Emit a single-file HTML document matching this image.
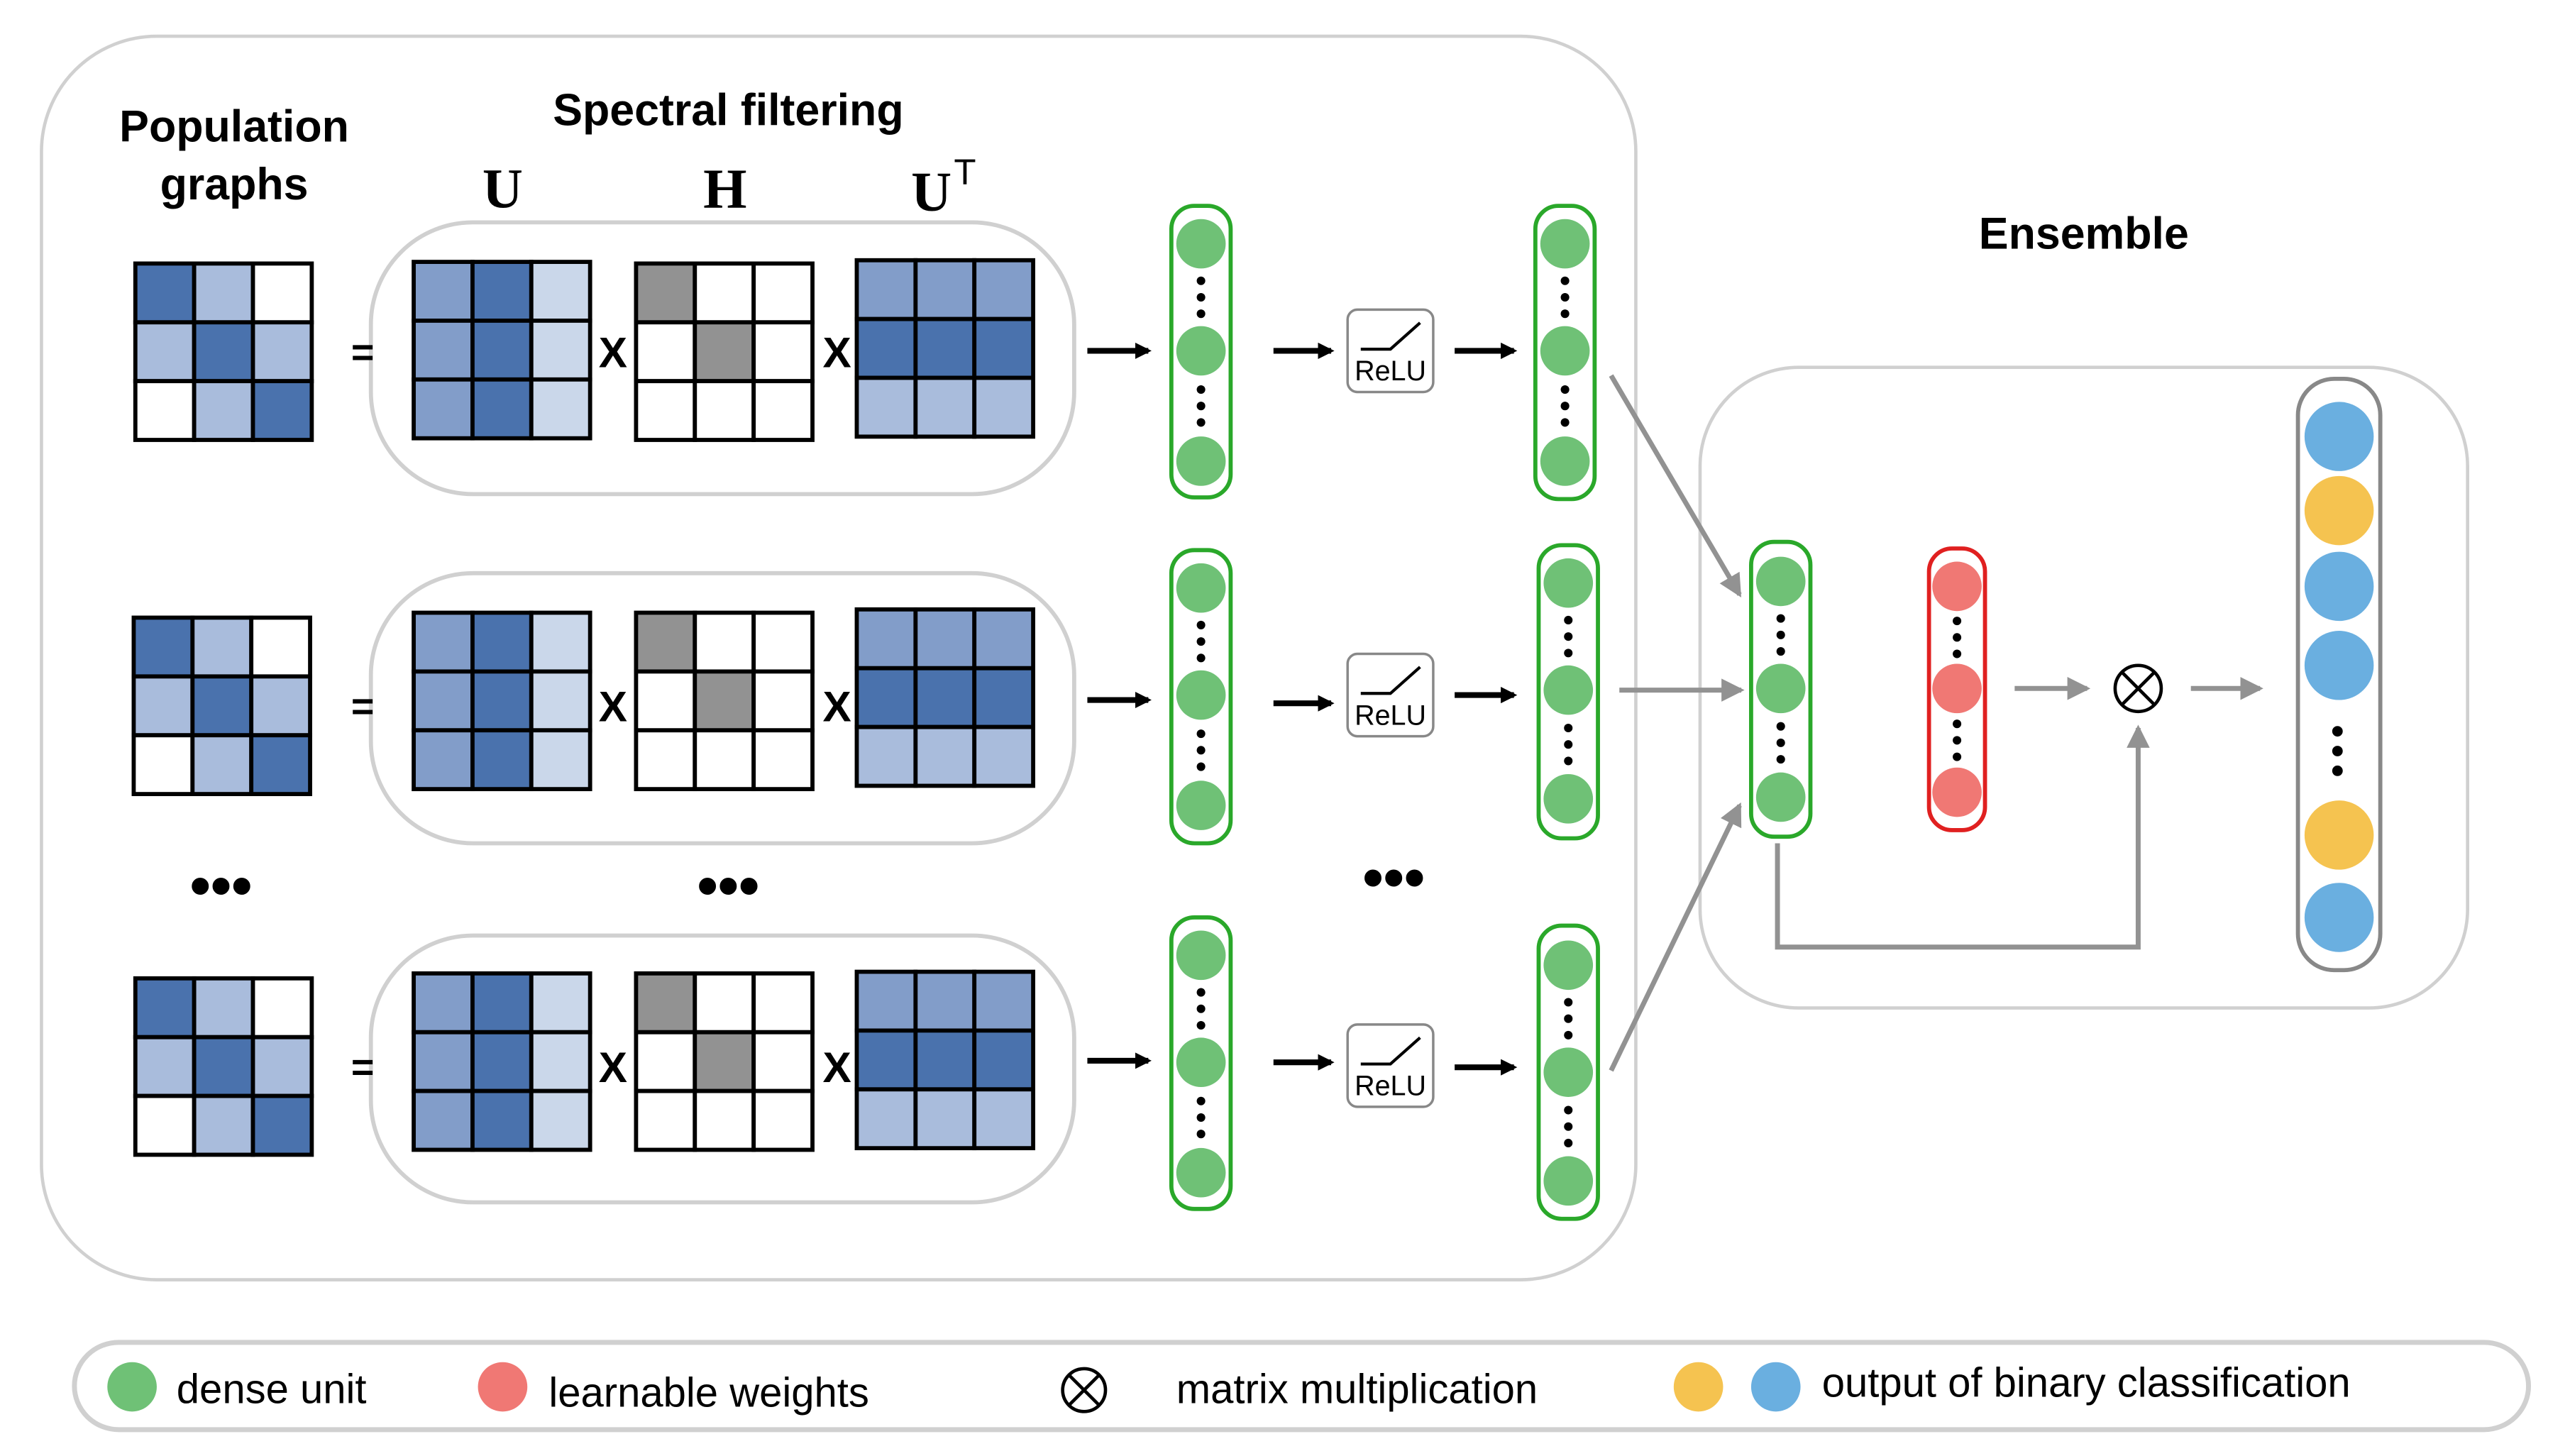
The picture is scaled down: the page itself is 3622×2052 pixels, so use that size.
<!DOCTYPE html>
<html><head><meta charset="utf-8"><style>
html,body{margin:0;padding:0;background:#fff;}
svg{display:block;}
text{font-family:"Liberation Sans",sans-serif;}
</style></head><body>
<svg id="s" width="3622" height="2052" viewBox="0 0 1560 884" xmlns="http://www.w3.org/2000/svg">
<defs>
<marker id="ak" markerWidth="10" markerHeight="10" refX="8" refY="5" orient="auto" markerUnits="userSpaceOnUse"><path d="M0,0 L10,5 L0,10 z" fill="#000"/></marker>
<marker id="ag" markerWidth="14" markerHeight="14" refX="12" refY="7" orient="auto" markerUnits="userSpaceOnUse"><path d="M0,0 L14,7 L0,14 z" fill="#929292"/></marker>
</defs>
<rect x="25" y="22" width="968" height="755" rx="70" fill="none" stroke="#d0d0d0" stroke-width="2"/>
<rect x="1032" y="223" width="466" height="389" rx="60" fill="none" stroke="#d0d0d0" stroke-width="2"/>
<rect x="45" y="815" width="1490" height="53" rx="27" fill="none" stroke="#d0d0d0" stroke-width="3"/>
<text x="142" y="86" font-size="27" font-weight="bold" text-anchor="middle">Population</text>
<text x="142" y="121" font-size="27" font-weight="bold" text-anchor="middle">graphs</text>
<text x="442" y="76" font-size="27" font-weight="bold" text-anchor="middle">Spectral filtering</text>
<text x="305" y="126" font-size="34" font-weight="bold" text-anchor="middle" style="font-family:'Liberation Serif',serif">U</text>
<text x="440" y="126" font-size="34" font-weight="bold" text-anchor="middle" style="font-family:'Liberation Serif',serif">H</text>
<text x="553" y="128" font-size="34" font-weight="bold" style="font-family:'Liberation Serif',serif">U</text>
<text x="579" y="112" font-size="22" style="font-family:'Liberation Sans',sans-serif">T</text>
<text x="1265" y="151" font-size="27" font-weight="bold" text-anchor="middle">Ensemble</text>
<text x="134" y="550" font-size="36" font-weight="bold" text-anchor="middle">•••</text>
<text x="442" y="550" font-size="36" font-weight="bold" text-anchor="middle">•••</text>
<text x="846" y="545" font-size="36" font-weight="bold" text-anchor="middle">•••</text>
<g id="g"></g>
<!-- legend -->
<circle cx="80" cy="842" r="15" fill="#6fc176"/>
<text x="107" y="852" font-size="25">dense unit</text>
<circle cx="305" cy="842" r="15" fill="#f07874"/>
<text x="333" y="854" font-size="25">learnable weights</text>
<g stroke="#000" stroke-width="2" fill="none"><circle cx="658" cy="844" r="13"/><path d="M649,835 L667,853 M667,835 L649,853"/></g>
<text x="714" y="852" font-size="25">matrix multiplication</text>
<circle cx="1031" cy="842" r="15" fill="#f5c350"/>
<circle cx="1078" cy="842" r="15" fill="#6aafe0"/>
<text x="1106" y="848" font-size="25">output of binary classification</text>
</svg>
<script>
var g=document.getElementById('g'),h='';
var D='#4a72ad',M='#829dc9',L='#a9bcdc',V='#cad7ea',G='#929292',W='#fff';
function mat(x,y,p){var w=35.7;for(var r=0;r<3;r++)for(var c=0;c<3;c++)h+='<rect x="'+(x+c*w)+'" y="'+(y+r*w)+'" width="'+w+'" height="'+w+'" fill="'+p[r][c]+'" stroke="#000" stroke-width="2.5"/>';}
var Gp=[[D,L,W],[L,D,L],[W,L,D]],Up=[[M,D,V],[M,D,V],[M,D,V]],Hp=[[G,W,W],[W,G,W],[W,W,W]],Tp=[[M,M,M],[D,D,D],[L,L,L]];
function col(x,y1,y2,cs,fill,st,w){w=w||36;h+='<rect x="'+x+'" y="'+y1+'" width="'+w+'" height="'+(y2-y1)+'" rx="14" fill="none" stroke="'+st+'" stroke-width="2.5"/>';var cx=x+w/2;
for(var i=0;i<cs.length;i++)h+='<circle cx="'+cx+'" cy="'+cs[i]+'" r="15" fill="'+fill+'"/>';
for(var i=0;i<2;i++){var m=(cs[i]+cs[i+1])/2;for(var k=-1;k<=1;k++)h+='<circle cx="'+cx+'" cy="'+(m+k*10)+'" r="2.6" fill="#000"/>';}}
function arr(x1,y,x2){h+='<line x1="'+x1+'" y1="'+y+'" x2="'+x2+'" y2="'+y+'" stroke="#000" stroke-width="3.5" marker-end="url(#ak)"/>';}
function relu(x,y){h+='<rect x="'+x+'" y="'+y+'" width="52" height="50" rx="6" fill="#fff" stroke="#888" stroke-width="1.5"/><path d="M'+(x+8)+','+(y+24)+' L'+(x+26)+','+(y+24)+' L'+(x+44)+','+(y+8)+'" fill="none" stroke="#000" stroke-width="1.8"/><text x="'+(x+26)+'" y="'+(y+43)+'" font-size="17" text-anchor="middle">ReLU</text>';}
var rows=[
 {gy:160,gx:82,by:135,bh:165,my:[159,160,158],c1:[125,302],c1c:[148,213,280],a:[213,213,213],ry:188,c2x:932,c2:[125,303],c2c:[148,213,280]},
 {gy:375,gx:81,by:348,bh:164,my:[372,372,370],c1:[334,512],c1c:[357,422,489],a:[425,427,422],ry:397,c2x:934,c2:[331,509],c2c:[354,419,485]},
 {gy:594,gx:82,by:568,bh:162,my:[591,591,590],c1:[557,734],c1c:[580,645,712],a:[644,645,648],ry:622,c2x:934,c2:[562,740],c2c:[586,651,717]}];
rows.forEach(function(r){
 h+='<rect x="225" y="'+r.by+'" width="427" height="'+r.bh+'" rx="62" fill="none" stroke="#d0d0d0" stroke-width="2.5"/>';
 mat(r.gx,r.gy,Gp);
 var cy=r.gy+53;
 h+='<text x="220" y="'+(cy+9)+'" font-size="24" font-weight="bold" text-anchor="middle">=</text>';
 mat(251,r.my[0],Up);mat(386,r.my[1],Hp);mat(520,r.my[2],Tp);
 h+='<text x="372" y="'+(cy+10)+'" font-size="26" font-weight="bold" text-anchor="middle">X</text>';
 h+='<text x="508" y="'+(cy+10)+'" font-size="26" font-weight="bold" text-anchor="middle">X</text>';
 arr(660,r.a[0],697);
 col(711,r.c1[0],r.c1[1],r.c1c,'#6fc176','#2aa82a');
 arr(773,r.a[1],808);relu(818,r.ry);arr(883,r.a[2],919);
 col(r.c2x,r.c2[0],r.c2[1],r.c2c,'#6fc176','#2aa82a');
});
var gs='stroke="#929292" stroke-width="3" fill="none"';
h+='<line x1="978" y1="228" x2="1056" y2="361" '+gs+' marker-end="url(#ag)"/>';
h+='<line x1="983" y1="419" x2="1057" y2="419" '+gs+' marker-end="url(#ag)"/>';
h+='<line x1="978" y1="650" x2="1056" y2="489" '+gs+' marker-end="url(#ag)"/>';
col(1063,329,508,[353,418,484],'#6fc176','#2aa82a');
col(1171,333,504,[356,418,481],'#f07874','#e02020',34);
h+='<line x1="1223" y1="418" x2="1267" y2="418" '+gs+' marker-end="url(#ag)"/>';
h+='<line x1="1330" y1="418" x2="1372" y2="418" '+gs+' marker-end="url(#ag)"/>';
h+='<g stroke="#000" stroke-width="2" fill="none"><circle cx="1298" cy="418" r="14"/><path d="M1288,408 L1308,428 M1308,408 L1288,428"/></g>';
h+='<path d="M1079,512 L1079,575 L1298,575 L1298,442" '+gs+' marker-end="url(#ag)"/>';
h+='<rect x="1395" y="230" width="50" height="359" rx="22" fill="none" stroke="#888" stroke-width="2.5"/>';
[[265,'#6aafe0'],[310,'#f5c350'],[356,'#6aafe0'],[404,'#6aafe0'],[507,'#f5c350'],[557,'#6aafe0']].forEach(function(c){h+='<circle cx="1420" cy="'+c[0]+'" r="21" fill="'+c[1]+'"/>';});
[444,456,468].forEach(function(y){h+='<circle cx="1419" cy="'+y+'" r="3.2" fill="#000"/>';});
g.innerHTML=h;
</script>
</body></html>
